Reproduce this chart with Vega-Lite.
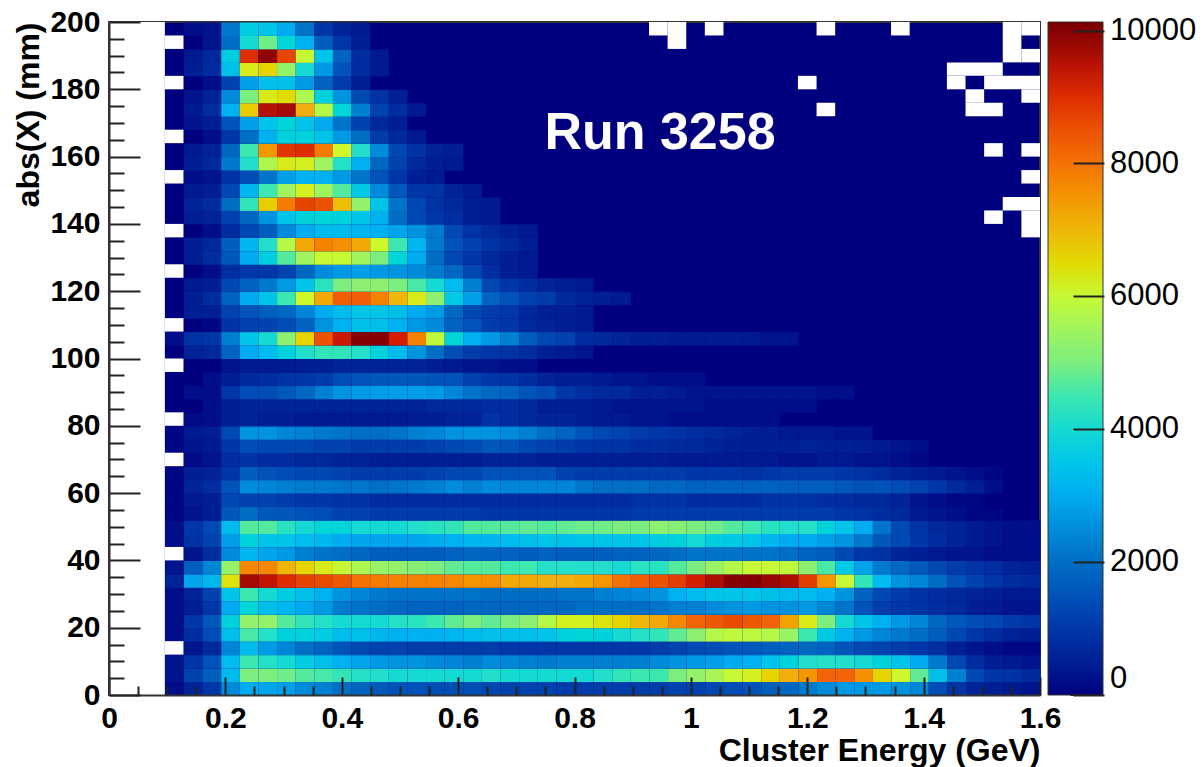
{"$schema":"https://vega.github.io/schema/vega-lite/v6.json","width":931,"height":673,"autosize":"none","padding":{"left":109,"top":22,"right":164,"bottom":72},"background":"white","config":{"view":{"fill":"#00007f","stroke":"#333333","strokeWidth":2},"font":"Liberation Sans"},"resolve":{"axis":{"x":"independent","y":"independent"}},"layer":[{"data":{"values":[
{"e":112,"a":2,"v":200},{"e":144,"a":2,"v":600},{"e":176,"a":2,"v":1000},{"e":208,"a":2,"v":2500},{"e":240,"a":2,"v":3000},{"e":272,"a":2,"v":2900},{"e":304,"a":2,"v":2800},{"e":336,"a":2,"v":2500},{"e":368,"a":2,"v":2300},{"e":400,"a":2,"v":2000},{"e":432,"a":2,"v":1800},{"e":464,"a":2,"v":1600},{"e":496,"a":2,"v":1500},{"e":528,"a":2,"v":1500},{"e":560,"a":2,"v":1400},{"e":592,"a":2,"v":1400},{"e":624,"a":2,"v":1400},{"e":656,"a":2,"v":1300},{"e":688,"a":2,"v":1200},{"e":720,"a":2,"v":1200},{"e":752,"a":2,"v":1200},{"e":784,"a":2,"v":1100},{"e":816,"a":2,"v":1100},{"e":848,"a":2,"v":1100},{"e":880,"a":2,"v":1100},{"e":912,"a":2,"v":1100},{"e":944,"a":2,"v":1100},{"e":976,"a":2,"v":1200},{"e":1008,"a":2,"v":1200},{"e":1040,"a":2,"v":1300},{"e":1072,"a":2,"v":1400},{"e":1104,"a":2,"v":1500},{"e":1136,"a":2,"v":1700},{"e":1168,"a":2,"v":1900},{"e":1200,"a":2,"v":2200},{"e":1232,"a":2,"v":2500},{"e":1264,"a":2,"v":2700},{"e":1296,"a":2,"v":2700},{"e":1328,"a":2,"v":2700},{"e":1360,"a":2,"v":2600},{"e":1392,"a":2,"v":2400},{"e":1424,"a":2,"v":1400},{"e":1456,"a":2,"v":900},{"e":1488,"a":2,"v":600},{"e":1520,"a":2,"v":500},{"e":1552,"a":2,"v":400},{"e":1584,"a":2,"v":300},
{"e":112,"a":6,"v":300},{"e":144,"a":6,"v":1200},{"e":176,"a":6,"v":1700},{"e":208,"a":6,"v":3300},{"e":240,"a":6,"v":5000},{"e":272,"a":6,"v":5000},{"e":304,"a":6,"v":4900},{"e":336,"a":6,"v":4700},{"e":368,"a":6,"v":4600},{"e":400,"a":6,"v":4400},{"e":432,"a":6,"v":4200},{"e":464,"a":6,"v":4100},{"e":496,"a":6,"v":4000},{"e":528,"a":6,"v":4000},{"e":560,"a":6,"v":4000},{"e":592,"a":6,"v":4000},{"e":624,"a":6,"v":4000},{"e":656,"a":6,"v":4100},{"e":688,"a":6,"v":4000},{"e":720,"a":6,"v":4000},{"e":752,"a":6,"v":4000},{"e":784,"a":6,"v":4000},{"e":816,"a":6,"v":4000},{"e":848,"a":6,"v":4100},{"e":880,"a":6,"v":4400},{"e":912,"a":6,"v":4500},{"e":944,"a":6,"v":4500},{"e":976,"a":6,"v":5000},{"e":1008,"a":6,"v":5300},{"e":1040,"a":6,"v":5600},{"e":1072,"a":6,"v":6000},{"e":1104,"a":6,"v":6200},{"e":1136,"a":6,"v":6600},{"e":1168,"a":6,"v":7100},{"e":1200,"a":6,"v":7500},{"e":1232,"a":6,"v":8200},{"e":1264,"a":6,"v":8200},{"e":1296,"a":6,"v":7600},{"e":1328,"a":6,"v":6600},{"e":1360,"a":6,"v":6100},{"e":1392,"a":6,"v":4800},{"e":1424,"a":6,"v":3400},{"e":1456,"a":6,"v":2300},{"e":1488,"a":6,"v":1300},{"e":1520,"a":6,"v":1000},{"e":1552,"a":6,"v":900},{"e":1584,"a":6,"v":700},
{"e":112,"a":10,"v":300},{"e":144,"a":10,"v":1000},{"e":176,"a":10,"v":1500},{"e":208,"a":10,"v":3300},{"e":240,"a":10,"v":4500},{"e":272,"a":10,"v":4200},{"e":304,"a":10,"v":4000},{"e":336,"a":10,"v":3700},{"e":368,"a":10,"v":3400},{"e":400,"a":10,"v":3100},{"e":432,"a":10,"v":2900},{"e":464,"a":10,"v":2700},{"e":496,"a":10,"v":2600},{"e":528,"a":10,"v":2600},{"e":560,"a":10,"v":2500},{"e":592,"a":10,"v":2400},{"e":624,"a":10,"v":2300},{"e":656,"a":10,"v":2500},{"e":688,"a":10,"v":2400},{"e":720,"a":10,"v":2300},{"e":752,"a":10,"v":2200},{"e":784,"a":10,"v":2300},{"e":816,"a":10,"v":2300},{"e":848,"a":10,"v":2300},{"e":880,"a":10,"v":2300},{"e":912,"a":10,"v":2300},{"e":944,"a":10,"v":2500},{"e":976,"a":10,"v":2600},{"e":1008,"a":10,"v":2700},{"e":1040,"a":10,"v":2800},{"e":1072,"a":10,"v":3000},{"e":1104,"a":10,"v":3100},{"e":1136,"a":10,"v":3500},{"e":1168,"a":10,"v":3800},{"e":1200,"a":10,"v":4100},{"e":1232,"a":10,"v":4200},{"e":1264,"a":10,"v":4100},{"e":1296,"a":10,"v":4000},{"e":1328,"a":10,"v":3800},{"e":1360,"a":10,"v":3500},{"e":1392,"a":10,"v":3000},{"e":1424,"a":10,"v":2200},{"e":1456,"a":10,"v":1300},{"e":1488,"a":10,"v":800},{"e":1520,"a":10,"v":500},{"e":1552,"a":10,"v":400},{"e":1584,"a":10,"v":300},
{"e":144,"a":14,"v":300},{"e":176,"a":14,"v":700},{"e":208,"a":14,"v":2400},{"e":240,"a":14,"v":3300},{"e":272,"a":14,"v":2700},{"e":304,"a":14,"v":2400},{"e":336,"a":14,"v":2000},{"e":368,"a":14,"v":1800},{"e":400,"a":14,"v":1500},{"e":432,"a":14,"v":1300},{"e":464,"a":14,"v":1200},{"e":496,"a":14,"v":1200},{"e":528,"a":14,"v":1100},{"e":560,"a":14,"v":1100},{"e":592,"a":14,"v":1100},{"e":624,"a":14,"v":1100},{"e":656,"a":14,"v":1100},{"e":688,"a":14,"v":1000},{"e":720,"a":14,"v":1000},{"e":752,"a":14,"v":1000},{"e":784,"a":14,"v":1000},{"e":816,"a":14,"v":1000},{"e":848,"a":14,"v":1000},{"e":880,"a":14,"v":1000},{"e":912,"a":14,"v":1000},{"e":944,"a":14,"v":1100},{"e":976,"a":14,"v":1200},{"e":1008,"a":14,"v":1300},{"e":1040,"a":14,"v":1400},{"e":1072,"a":14,"v":1500},{"e":1104,"a":14,"v":1600},{"e":1136,"a":14,"v":1700},{"e":1168,"a":14,"v":1800},{"e":1200,"a":14,"v":1900},{"e":1232,"a":14,"v":1800},{"e":1264,"a":14,"v":1500},{"e":1296,"a":14,"v":1300},{"e":1328,"a":14,"v":1200},{"e":1360,"a":14,"v":1100},{"e":1392,"a":14,"v":1000},{"e":1424,"a":14,"v":800},{"e":1456,"a":14,"v":500},{"e":1488,"a":14,"v":300},{"e":1520,"a":14,"v":200},{"e":1552,"a":14,"v":100},{"e":1584,"a":14,"v":100},
{"e":112,"a":18,"v":200},{"e":144,"a":18,"v":800},{"e":176,"a":18,"v":1400},{"e":208,"a":18,"v":3400},{"e":240,"a":18,"v":4600},{"e":272,"a":18,"v":4200},{"e":304,"a":18,"v":3800},{"e":336,"a":18,"v":3800},{"e":368,"a":18,"v":3700},{"e":400,"a":18,"v":3300},{"e":432,"a":18,"v":3400},{"e":464,"a":18,"v":3200},{"e":496,"a":18,"v":3100},{"e":528,"a":18,"v":3100},{"e":560,"a":18,"v":3100},{"e":592,"a":18,"v":3200},{"e":624,"a":18,"v":3300},{"e":656,"a":18,"v":3400},{"e":688,"a":18,"v":3400},{"e":720,"a":18,"v":3400},{"e":752,"a":18,"v":3500},{"e":784,"a":18,"v":3800},{"e":816,"a":18,"v":3900},{"e":848,"a":18,"v":3800},{"e":880,"a":18,"v":4000},{"e":912,"a":18,"v":4200},{"e":944,"a":18,"v":4400},{"e":976,"a":18,"v":4800},{"e":1008,"a":18,"v":5200},{"e":1040,"a":18,"v":5800},{"e":1072,"a":18,"v":5900},{"e":1104,"a":18,"v":5900},{"e":1136,"a":18,"v":5800},{"e":1168,"a":18,"v":5400},{"e":1200,"a":18,"v":4500},{"e":1232,"a":18,"v":3600},{"e":1264,"a":18,"v":3100},{"e":1296,"a":18,"v":2700},{"e":1328,"a":18,"v":2400},{"e":1360,"a":18,"v":2200},{"e":1392,"a":18,"v":2000},{"e":1424,"a":18,"v":1700},{"e":1456,"a":18,"v":1300},{"e":1488,"a":18,"v":1000},{"e":1520,"a":18,"v":800},{"e":1552,"a":18,"v":600},{"e":1584,"a":18,"v":500},
{"e":112,"a":22,"v":200},{"e":144,"a":22,"v":1000},{"e":176,"a":22,"v":1600},{"e":208,"a":22,"v":3800},{"e":240,"a":22,"v":5300},{"e":272,"a":22,"v":5300},{"e":304,"a":22,"v":4700},{"e":336,"a":22,"v":4400},{"e":368,"a":22,"v":4200},{"e":400,"a":22,"v":4000},{"e":432,"a":22,"v":4000},{"e":464,"a":22,"v":4000},{"e":496,"a":22,"v":4200},{"e":528,"a":22,"v":4300},{"e":560,"a":22,"v":4500},{"e":592,"a":22,"v":4800},{"e":624,"a":22,"v":5000},{"e":656,"a":22,"v":4800},{"e":688,"a":22,"v":5000},{"e":720,"a":22,"v":5200},{"e":752,"a":22,"v":5800},{"e":784,"a":22,"v":6200},{"e":816,"a":22,"v":6200},{"e":848,"a":22,"v":6400},{"e":880,"a":22,"v":6600},{"e":912,"a":22,"v":7000},{"e":944,"a":22,"v":7200},{"e":976,"a":22,"v":7700},{"e":1008,"a":22,"v":8200},{"e":1040,"a":22,"v":8400},{"e":1072,"a":22,"v":8600},{"e":1104,"a":22,"v":8400},{"e":1136,"a":22,"v":8200},{"e":1168,"a":22,"v":7300},{"e":1200,"a":22,"v":6300},{"e":1232,"a":22,"v":5000},{"e":1264,"a":22,"v":4000},{"e":1296,"a":22,"v":3500},{"e":1328,"a":22,"v":3100},{"e":1360,"a":22,"v":2700},{"e":1392,"a":22,"v":2400},{"e":1424,"a":22,"v":1900},{"e":1456,"a":22,"v":1600},{"e":1488,"a":22,"v":1400},{"e":1520,"a":22,"v":1300},{"e":1552,"a":22,"v":1100},{"e":1584,"a":22,"v":1000},
{"e":112,"a":26,"v":200},{"e":144,"a":26,"v":500},{"e":176,"a":26,"v":1000},{"e":208,"a":26,"v":3000},{"e":240,"a":26,"v":3900},{"e":272,"a":26,"v":3400},{"e":304,"a":26,"v":3200},{"e":336,"a":26,"v":3000},{"e":368,"a":26,"v":2700},{"e":400,"a":26,"v":2200},{"e":432,"a":26,"v":2100},{"e":464,"a":26,"v":2000},{"e":496,"a":26,"v":1900},{"e":528,"a":26,"v":1800},{"e":560,"a":26,"v":1800},{"e":592,"a":26,"v":1800},{"e":624,"a":26,"v":1900},{"e":656,"a":26,"v":1900},{"e":688,"a":26,"v":1900},{"e":720,"a":26,"v":1900},{"e":752,"a":26,"v":1900},{"e":784,"a":26,"v":1900},{"e":816,"a":26,"v":2000},{"e":848,"a":26,"v":2000},{"e":880,"a":26,"v":2000},{"e":912,"a":26,"v":2000},{"e":944,"a":26,"v":2100},{"e":976,"a":26,"v":2300},{"e":1008,"a":26,"v":2300},{"e":1040,"a":26,"v":2500},{"e":1072,"a":26,"v":2600},{"e":1104,"a":26,"v":2700},{"e":1136,"a":26,"v":2600},{"e":1168,"a":26,"v":2600},{"e":1200,"a":26,"v":2700},{"e":1232,"a":26,"v":2400},{"e":1264,"a":26,"v":2100},{"e":1296,"a":26,"v":1500},{"e":1328,"a":26,"v":1100},{"e":1360,"a":26,"v":1000},{"e":1392,"a":26,"v":900},{"e":1424,"a":26,"v":800},{"e":1456,"a":26,"v":700},{"e":1488,"a":26,"v":500},{"e":1520,"a":26,"v":400},{"e":1552,"a":26,"v":300},{"e":1584,"a":26,"v":300},
{"e":112,"a":30,"v":200},{"e":144,"a":30,"v":600},{"e":176,"a":30,"v":1200},{"e":208,"a":30,"v":3500},{"e":240,"a":30,"v":4500},{"e":272,"a":30,"v":4000},{"e":304,"a":30,"v":3700},{"e":336,"a":30,"v":3400},{"e":368,"a":30,"v":3100},{"e":400,"a":30,"v":2600},{"e":432,"a":30,"v":2400},{"e":464,"a":30,"v":2200},{"e":496,"a":30,"v":2100},{"e":528,"a":30,"v":2100},{"e":560,"a":30,"v":2100},{"e":592,"a":30,"v":2100},{"e":624,"a":30,"v":2100},{"e":656,"a":30,"v":2000},{"e":688,"a":30,"v":2000},{"e":720,"a":30,"v":2000},{"e":752,"a":30,"v":2000},{"e":784,"a":30,"v":2100},{"e":816,"a":30,"v":2100},{"e":848,"a":30,"v":2300},{"e":880,"a":30,"v":2400},{"e":912,"a":30,"v":2500},{"e":944,"a":30,"v":2600},{"e":976,"a":30,"v":3100},{"e":1008,"a":30,"v":3300},{"e":1040,"a":30,"v":3500},{"e":1072,"a":30,"v":3500},{"e":1104,"a":30,"v":3500},{"e":1136,"a":30,"v":3400},{"e":1168,"a":30,"v":3300},{"e":1200,"a":30,"v":3300},{"e":1232,"a":30,"v":3100},{"e":1264,"a":30,"v":2600},{"e":1296,"a":30,"v":1800},{"e":1328,"a":30,"v":1300},{"e":1360,"a":30,"v":1100},{"e":1392,"a":30,"v":900},{"e":1424,"a":30,"v":800},{"e":1456,"a":30,"v":700},{"e":1488,"a":30,"v":600},{"e":1520,"a":30,"v":500},{"e":1552,"a":30,"v":400},{"e":1584,"a":30,"v":400},
{"e":112,"a":34,"v":600},{"e":144,"a":34,"v":2900},{"e":176,"a":34,"v":3200},{"e":208,"a":34,"v":6400},{"e":240,"a":34,"v":9700},{"e":272,"a":34,"v":9400},{"e":304,"a":34,"v":9000},{"e":336,"a":34,"v":8700},{"e":368,"a":34,"v":8600},{"e":400,"a":34,"v":8400},{"e":432,"a":34,"v":8000},{"e":464,"a":34,"v":7900},{"e":496,"a":34,"v":7800},{"e":528,"a":34,"v":7800},{"e":560,"a":34,"v":7800},{"e":592,"a":34,"v":7700},{"e":624,"a":34,"v":7500},{"e":656,"a":34,"v":7600},{"e":688,"a":34,"v":7200},{"e":720,"a":34,"v":7200},{"e":752,"a":34,"v":7100},{"e":784,"a":34,"v":7100},{"e":816,"a":34,"v":7200},{"e":848,"a":34,"v":7500},{"e":880,"a":34,"v":8000},{"e":912,"a":34,"v":8300},{"e":944,"a":34,"v":8500},{"e":976,"a":34,"v":8800},{"e":1008,"a":34,"v":9200},{"e":1040,"a":34,"v":9600},{"e":1072,"a":34,"v":10000},{"e":1104,"a":34,"v":10000},{"e":1136,"a":34,"v":9800},{"e":1168,"a":34,"v":9600},{"e":1200,"a":34,"v":8800},{"e":1232,"a":34,"v":7500},{"e":1264,"a":34,"v":6000},{"e":1296,"a":34,"v":4400},{"e":1328,"a":34,"v":3300},{"e":1360,"a":34,"v":2600},{"e":1392,"a":34,"v":2400},{"e":1424,"a":34,"v":2000},{"e":1456,"a":34,"v":1500},{"e":1488,"a":34,"v":1200},{"e":1520,"a":34,"v":1000},{"e":1552,"a":34,"v":800},{"e":1584,"a":34,"v":700},
{"e":112,"a":38,"v":300},{"e":144,"a":38,"v":1700},{"e":176,"a":38,"v":2400},{"e":208,"a":38,"v":5300},{"e":240,"a":38,"v":7700},{"e":272,"a":38,"v":7700},{"e":304,"a":38,"v":7000},{"e":336,"a":38,"v":6600},{"e":368,"a":38,"v":6300},{"e":400,"a":38,"v":6000},{"e":432,"a":38,"v":5700},{"e":464,"a":38,"v":5400},{"e":496,"a":38,"v":5300},{"e":528,"a":38,"v":5100},{"e":560,"a":38,"v":5000},{"e":592,"a":38,"v":4800},{"e":624,"a":38,"v":4700},{"e":656,"a":38,"v":4700},{"e":688,"a":38,"v":4500},{"e":720,"a":38,"v":4500},{"e":752,"a":38,"v":4200},{"e":784,"a":38,"v":4200},{"e":816,"a":38,"v":4100},{"e":848,"a":38,"v":4100},{"e":880,"a":38,"v":4000},{"e":912,"a":38,"v":4300},{"e":944,"a":38,"v":4300},{"e":976,"a":38,"v":4700},{"e":1008,"a":38,"v":5000},{"e":1040,"a":38,"v":5400},{"e":1072,"a":38,"v":5800},{"e":1104,"a":38,"v":6000},{"e":1136,"a":38,"v":6000},{"e":1168,"a":38,"v":5900},{"e":1200,"a":38,"v":5200},{"e":1232,"a":38,"v":4600},{"e":1264,"a":38,"v":3600},{"e":1296,"a":38,"v":2900},{"e":1328,"a":38,"v":2200},{"e":1360,"a":38,"v":1900},{"e":1392,"a":38,"v":1600},{"e":1424,"a":38,"v":1300},{"e":1456,"a":38,"v":1100},{"e":1488,"a":38,"v":900},{"e":1520,"a":38,"v":800},{"e":1552,"a":38,"v":600},{"e":1584,"a":38,"v":500},
{"e":144,"a":42,"v":300},{"e":176,"a":42,"v":800},{"e":208,"a":42,"v":2500},{"e":240,"a":42,"v":3200},{"e":272,"a":42,"v":2900},{"e":304,"a":42,"v":2700},{"e":336,"a":42,"v":2300},{"e":368,"a":42,"v":2100},{"e":400,"a":42,"v":2000},{"e":432,"a":42,"v":1900},{"e":464,"a":42,"v":1700},{"e":496,"a":42,"v":1700},{"e":528,"a":42,"v":1700},{"e":560,"a":42,"v":1700},{"e":592,"a":42,"v":1800},{"e":624,"a":42,"v":1900},{"e":656,"a":42,"v":1800},{"e":688,"a":42,"v":1800},{"e":720,"a":42,"v":1700},{"e":752,"a":42,"v":1800},{"e":784,"a":42,"v":1700},{"e":816,"a":42,"v":1700},{"e":848,"a":42,"v":1700},{"e":880,"a":42,"v":1800},{"e":912,"a":42,"v":1800},{"e":944,"a":42,"v":1900},{"e":976,"a":42,"v":2000},{"e":1008,"a":42,"v":2100},{"e":1040,"a":42,"v":2100},{"e":1072,"a":42,"v":2100},{"e":1104,"a":42,"v":2100},{"e":1136,"a":42,"v":2100},{"e":1168,"a":42,"v":2000},{"e":1200,"a":42,"v":1800},{"e":1232,"a":42,"v":1700},{"e":1264,"a":42,"v":1300},{"e":1296,"a":42,"v":1000},{"e":1328,"a":42,"v":900},{"e":1360,"a":42,"v":600},{"e":1392,"a":42,"v":500},{"e":1424,"a":42,"v":400},{"e":1456,"a":42,"v":300},{"e":1488,"a":42,"v":300},{"e":1520,"a":42,"v":200},{"e":1552,"a":42,"v":200},{"e":1584,"a":42,"v":200},
{"e":112,"a":46,"v":200},{"e":144,"a":46,"v":900},{"e":176,"a":46,"v":1200},{"e":208,"a":46,"v":2800},{"e":240,"a":46,"v":3800},{"e":272,"a":46,"v":3500},{"e":304,"a":46,"v":3500},{"e":336,"a":46,"v":3300},{"e":368,"a":46,"v":3200},{"e":400,"a":46,"v":3000},{"e":432,"a":46,"v":2900},{"e":464,"a":46,"v":2900},{"e":496,"a":46,"v":2900},{"e":528,"a":46,"v":2900},{"e":560,"a":46,"v":3000},{"e":592,"a":46,"v":3100},{"e":624,"a":46,"v":3200},{"e":656,"a":46,"v":3200},{"e":688,"a":46,"v":3300},{"e":720,"a":46,"v":3400},{"e":752,"a":46,"v":3500},{"e":784,"a":46,"v":3400},{"e":816,"a":46,"v":3500},{"e":848,"a":46,"v":3500},{"e":880,"a":46,"v":3500},{"e":912,"a":46,"v":3500},{"e":944,"a":46,"v":3700},{"e":976,"a":46,"v":3800},{"e":1008,"a":46,"v":4000},{"e":1040,"a":46,"v":3700},{"e":1072,"a":46,"v":3600},{"e":1104,"a":46,"v":3500},{"e":1136,"a":46,"v":3200},{"e":1168,"a":46,"v":3000},{"e":1200,"a":46,"v":3000},{"e":1232,"a":46,"v":2800},{"e":1264,"a":46,"v":2600},{"e":1296,"a":46,"v":2200},{"e":1328,"a":46,"v":1600},{"e":1360,"a":46,"v":1300},{"e":1392,"a":46,"v":1000},{"e":1424,"a":46,"v":800},{"e":1456,"a":46,"v":600},{"e":1488,"a":46,"v":400},{"e":1520,"a":46,"v":300},{"e":1552,"a":46,"v":200},{"e":1584,"a":46,"v":200},
{"e":112,"a":50,"v":200},{"e":144,"a":50,"v":1000},{"e":176,"a":50,"v":1300},{"e":208,"a":50,"v":3300},{"e":240,"a":50,"v":4700},{"e":272,"a":50,"v":4700},{"e":304,"a":50,"v":4300},{"e":336,"a":50,"v":4000},{"e":368,"a":50,"v":3900},{"e":400,"a":50,"v":3900},{"e":432,"a":50,"v":4000},{"e":464,"a":50,"v":4000},{"e":496,"a":50,"v":4000},{"e":528,"a":50,"v":4100},{"e":560,"a":50,"v":4300},{"e":592,"a":50,"v":4400},{"e":624,"a":50,"v":4700},{"e":656,"a":50,"v":4700},{"e":688,"a":50,"v":4700},{"e":720,"a":50,"v":4800},{"e":752,"a":50,"v":4700},{"e":784,"a":50,"v":4800},{"e":816,"a":50,"v":4900},{"e":848,"a":50,"v":4900},{"e":880,"a":50,"v":5000},{"e":912,"a":50,"v":5000},{"e":944,"a":50,"v":5200},{"e":976,"a":50,"v":5100},{"e":1008,"a":50,"v":5000},{"e":1040,"a":50,"v":4900},{"e":1072,"a":50,"v":4700},{"e":1104,"a":50,"v":4500},{"e":1136,"a":50,"v":4300},{"e":1168,"a":50,"v":4100},{"e":1200,"a":50,"v":4200},{"e":1232,"a":50,"v":3800},{"e":1264,"a":50,"v":3500},{"e":1296,"a":50,"v":3000},{"e":1328,"a":50,"v":2100},{"e":1360,"a":50,"v":1300},{"e":1392,"a":50,"v":900},{"e":1424,"a":50,"v":700},{"e":1456,"a":50,"v":600},{"e":1488,"a":50,"v":400},{"e":1520,"a":50,"v":300},{"e":1552,"a":50,"v":200},{"e":1584,"a":50,"v":200},
{"e":112,"a":54,"v":100},{"e":144,"a":54,"v":300},{"e":176,"a":54,"v":500},{"e":208,"a":54,"v":1600},{"e":240,"a":54,"v":2000},{"e":272,"a":54,"v":1600},{"e":304,"a":54,"v":1600},{"e":336,"a":54,"v":1500},{"e":368,"a":54,"v":1400},{"e":400,"a":54,"v":1200},{"e":432,"a":54,"v":1200},{"e":464,"a":54,"v":1100},{"e":496,"a":54,"v":1100},{"e":528,"a":54,"v":1100},{"e":560,"a":54,"v":1100},{"e":592,"a":54,"v":1100},{"e":624,"a":54,"v":1100},{"e":656,"a":54,"v":1000},{"e":688,"a":54,"v":1000},{"e":720,"a":54,"v":1000},{"e":752,"a":54,"v":1000},{"e":784,"a":54,"v":1000},{"e":816,"a":54,"v":1000},{"e":848,"a":54,"v":1000},{"e":880,"a":54,"v":1000},{"e":912,"a":54,"v":1100},{"e":944,"a":54,"v":1100},{"e":976,"a":54,"v":1100},{"e":1008,"a":54,"v":1100},{"e":1040,"a":54,"v":1100},{"e":1072,"a":54,"v":1100},{"e":1104,"a":54,"v":1100},{"e":1136,"a":54,"v":1100},{"e":1168,"a":54,"v":1100},{"e":1200,"a":54,"v":1100},{"e":1232,"a":54,"v":1100},{"e":1264,"a":54,"v":1000},{"e":1296,"a":54,"v":900},{"e":1328,"a":54,"v":800},{"e":1360,"a":54,"v":700},{"e":1392,"a":54,"v":400},{"e":1424,"a":54,"v":300},{"e":1456,"a":54,"v":200},{"e":1488,"a":54,"v":100},{"e":1520,"a":54,"v":100},
{"e":112,"a":58,"v":100},{"e":144,"a":58,"v":400},{"e":176,"a":58,"v":500},{"e":208,"a":58,"v":1300},{"e":240,"a":58,"v":1200},{"e":272,"a":58,"v":1200},{"e":304,"a":58,"v":1100},{"e":336,"a":58,"v":1000},{"e":368,"a":58,"v":1000},{"e":400,"a":58,"v":900},{"e":432,"a":58,"v":900},{"e":464,"a":58,"v":800},{"e":496,"a":58,"v":800},{"e":528,"a":58,"v":800},{"e":560,"a":58,"v":800},{"e":592,"a":58,"v":800},{"e":624,"a":58,"v":800},{"e":656,"a":58,"v":800},{"e":688,"a":58,"v":800},{"e":720,"a":58,"v":800},{"e":752,"a":58,"v":800},{"e":784,"a":58,"v":800},{"e":816,"a":58,"v":800},{"e":848,"a":58,"v":800},{"e":880,"a":58,"v":800},{"e":912,"a":58,"v":900},{"e":944,"a":58,"v":900},{"e":976,"a":58,"v":900},{"e":1008,"a":58,"v":800},{"e":1040,"a":58,"v":800},{"e":1072,"a":58,"v":800},{"e":1104,"a":58,"v":800},{"e":1136,"a":58,"v":900},{"e":1168,"a":58,"v":900},{"e":1200,"a":58,"v":900},{"e":1232,"a":58,"v":800},{"e":1264,"a":58,"v":800},{"e":1296,"a":58,"v":700},{"e":1328,"a":58,"v":700},{"e":1360,"a":58,"v":600},{"e":1392,"a":58,"v":300},{"e":1424,"a":58,"v":200},{"e":1456,"a":58,"v":100},{"e":1488,"a":58,"v":100},
{"e":112,"a":62,"v":100},{"e":144,"a":62,"v":600},{"e":176,"a":62,"v":800},{"e":208,"a":62,"v":1500},{"e":240,"a":62,"v":2500},{"e":272,"a":62,"v":2400},{"e":304,"a":62,"v":2300},{"e":336,"a":62,"v":2200},{"e":368,"a":62,"v":2200},{"e":400,"a":62,"v":2100},{"e":432,"a":62,"v":2100},{"e":464,"a":62,"v":2000},{"e":496,"a":62,"v":2100},{"e":528,"a":62,"v":2200},{"e":560,"a":62,"v":2300},{"e":592,"a":62,"v":2500},{"e":624,"a":62,"v":2300},{"e":656,"a":62,"v":2500},{"e":688,"a":62,"v":2400},{"e":720,"a":62,"v":2400},{"e":752,"a":62,"v":2400},{"e":784,"a":62,"v":2400},{"e":816,"a":62,"v":2100},{"e":848,"a":62,"v":2000},{"e":880,"a":62,"v":2000},{"e":912,"a":62,"v":2000},{"e":944,"a":62,"v":1900},{"e":976,"a":62,"v":1900},{"e":1008,"a":62,"v":1800},{"e":1040,"a":62,"v":1800},{"e":1072,"a":62,"v":1800},{"e":1104,"a":62,"v":1800},{"e":1136,"a":62,"v":1800},{"e":1168,"a":62,"v":1700},{"e":1200,"a":62,"v":1700},{"e":1232,"a":62,"v":1700},{"e":1264,"a":62,"v":1600},{"e":1296,"a":62,"v":1500},{"e":1328,"a":62,"v":1500},{"e":1360,"a":62,"v":1400},{"e":1392,"a":62,"v":1200},{"e":1424,"a":62,"v":1000},{"e":1456,"a":62,"v":700},{"e":1488,"a":62,"v":500},{"e":1520,"a":62,"v":200},
{"e":112,"a":66,"v":100},{"e":144,"a":66,"v":500},{"e":176,"a":66,"v":600},{"e":208,"a":66,"v":1000},{"e":240,"a":66,"v":1700},{"e":272,"a":66,"v":1500},{"e":304,"a":66,"v":1400},{"e":336,"a":66,"v":1300},{"e":368,"a":66,"v":1300},{"e":400,"a":66,"v":1200},{"e":432,"a":66,"v":1100},{"e":464,"a":66,"v":1100},{"e":496,"a":66,"v":1100},{"e":528,"a":66,"v":1100},{"e":560,"a":66,"v":1200},{"e":592,"a":66,"v":1300},{"e":624,"a":66,"v":1300},{"e":656,"a":66,"v":1500},{"e":688,"a":66,"v":1500},{"e":720,"a":66,"v":1500},{"e":752,"a":66,"v":1500},{"e":784,"a":66,"v":1200},{"e":816,"a":66,"v":1100},{"e":848,"a":66,"v":1100},{"e":880,"a":66,"v":1100},{"e":912,"a":66,"v":1100},{"e":944,"a":66,"v":1100},{"e":976,"a":66,"v":1100},{"e":1008,"a":66,"v":1000},{"e":1040,"a":66,"v":1000},{"e":1072,"a":66,"v":1000},{"e":1104,"a":66,"v":900},{"e":1136,"a":66,"v":1000},{"e":1168,"a":66,"v":1100},{"e":1200,"a":66,"v":1100},{"e":1232,"a":66,"v":1100},{"e":1264,"a":66,"v":1000},{"e":1296,"a":66,"v":900},{"e":1328,"a":66,"v":800},{"e":1360,"a":66,"v":600},{"e":1392,"a":66,"v":500},{"e":1424,"a":66,"v":400},{"e":1456,"a":66,"v":300},{"e":1488,"a":66,"v":200},{"e":1520,"a":66,"v":100},
{"e":144,"a":70,"v":150},{"e":176,"a":70,"v":300},{"e":208,"a":70,"v":800},{"e":240,"a":70,"v":900},{"e":272,"a":70,"v":800},{"e":304,"a":70,"v":800},{"e":336,"a":70,"v":700},{"e":368,"a":70,"v":700},{"e":400,"a":70,"v":600},{"e":432,"a":70,"v":600},{"e":464,"a":70,"v":500},{"e":496,"a":70,"v":500},{"e":528,"a":70,"v":500},{"e":560,"a":70,"v":500},{"e":592,"a":70,"v":500},{"e":624,"a":70,"v":500},{"e":656,"a":70,"v":600},{"e":688,"a":70,"v":600},{"e":720,"a":70,"v":600},{"e":752,"a":70,"v":500},{"e":784,"a":70,"v":500},{"e":816,"a":70,"v":500},{"e":848,"a":70,"v":500},{"e":880,"a":70,"v":500},{"e":912,"a":70,"v":500},{"e":944,"a":70,"v":500},{"e":976,"a":70,"v":400},{"e":1008,"a":70,"v":400},{"e":1040,"a":70,"v":400},{"e":1072,"a":70,"v":400},{"e":1104,"a":70,"v":400},{"e":1136,"a":70,"v":400},{"e":1168,"a":70,"v":300},{"e":1200,"a":70,"v":300},{"e":1232,"a":70,"v":400},{"e":1264,"a":70,"v":400},{"e":1296,"a":70,"v":300},{"e":1328,"a":70,"v":300},{"e":1360,"a":70,"v":200},{"e":1392,"a":70,"v":100},
{"e":112,"a":74,"v":100},{"e":144,"a":74,"v":300},{"e":176,"a":74,"v":400},{"e":208,"a":74,"v":1000},{"e":240,"a":74,"v":1400},{"e":272,"a":74,"v":1300},{"e":304,"a":74,"v":1300},{"e":336,"a":74,"v":1300},{"e":368,"a":74,"v":1200},{"e":400,"a":74,"v":1200},{"e":432,"a":74,"v":1100},{"e":464,"a":74,"v":1100},{"e":496,"a":74,"v":1100},{"e":528,"a":74,"v":1100},{"e":560,"a":74,"v":1200},{"e":592,"a":74,"v":1300},{"e":624,"a":74,"v":1400},{"e":656,"a":74,"v":1600},{"e":688,"a":74,"v":1500},{"e":720,"a":74,"v":1300},{"e":752,"a":74,"v":1200},{"e":784,"a":74,"v":1100},{"e":816,"a":74,"v":1000},{"e":848,"a":74,"v":900},{"e":880,"a":74,"v":900},{"e":912,"a":74,"v":800},{"e":944,"a":74,"v":800},{"e":976,"a":74,"v":700},{"e":1008,"a":74,"v":700},{"e":1040,"a":74,"v":600},{"e":1072,"a":74,"v":500},{"e":1104,"a":74,"v":500},{"e":1136,"a":74,"v":500},{"e":1168,"a":74,"v":500},{"e":1200,"a":74,"v":600},{"e":1232,"a":74,"v":500},{"e":1264,"a":74,"v":500},{"e":1296,"a":74,"v":500},{"e":1328,"a":74,"v":400},{"e":1360,"a":74,"v":300},{"e":1392,"a":74,"v":200},
{"e":112,"a":78,"v":100},{"e":144,"a":78,"v":400},{"e":176,"a":78,"v":500},{"e":208,"a":78,"v":1300},{"e":240,"a":78,"v":2600},{"e":272,"a":78,"v":2600},{"e":304,"a":78,"v":2400},{"e":336,"a":78,"v":2300},{"e":368,"a":78,"v":2200},{"e":400,"a":78,"v":2100},{"e":432,"a":78,"v":2000},{"e":464,"a":78,"v":2000},{"e":496,"a":78,"v":2100},{"e":528,"a":78,"v":2300},{"e":560,"a":78,"v":2400},{"e":592,"a":78,"v":2600},{"e":624,"a":78,"v":2600},{"e":656,"a":78,"v":2600},{"e":688,"a":78,"v":2500},{"e":720,"a":78,"v":2300},{"e":752,"a":78,"v":2000},{"e":784,"a":78,"v":1800},{"e":816,"a":78,"v":1500},{"e":848,"a":78,"v":1300},{"e":880,"a":78,"v":1200},{"e":912,"a":78,"v":1100},{"e":944,"a":78,"v":1000},{"e":976,"a":78,"v":900},{"e":1008,"a":78,"v":800},{"e":1040,"a":78,"v":700},{"e":1072,"a":78,"v":600},{"e":1104,"a":78,"v":500},{"e":1136,"a":78,"v":500},{"e":1168,"a":78,"v":400},{"e":1200,"a":78,"v":400},{"e":1232,"a":78,"v":400},{"e":1264,"a":78,"v":300},{"e":1296,"a":78,"v":300},
{"e":144,"a":82,"v":150},{"e":176,"a":82,"v":200},{"e":208,"a":82,"v":500},{"e":240,"a":82,"v":600},{"e":272,"a":82,"v":500},{"e":304,"a":82,"v":500},{"e":336,"a":82,"v":400},{"e":368,"a":82,"v":400},{"e":400,"a":82,"v":400},{"e":432,"a":82,"v":400},{"e":464,"a":82,"v":400},{"e":496,"a":82,"v":400},{"e":528,"a":82,"v":500},{"e":560,"a":82,"v":500},{"e":592,"a":82,"v":600},{"e":624,"a":82,"v":600},{"e":656,"a":82,"v":900},{"e":688,"a":82,"v":800},{"e":720,"a":82,"v":700},{"e":752,"a":82,"v":600},{"e":784,"a":82,"v":600},{"e":816,"a":82,"v":500},{"e":848,"a":82,"v":400},{"e":880,"a":82,"v":400},{"e":912,"a":82,"v":300},{"e":944,"a":82,"v":300},{"e":976,"a":82,"v":200},{"e":1008,"a":82,"v":200},{"e":1040,"a":82,"v":200},{"e":1072,"a":82,"v":200},{"e":1104,"a":82,"v":200},{"e":1136,"a":82,"v":200},
{"e":176,"a":86,"v":200},{"e":208,"a":86,"v":500},{"e":240,"a":86,"v":600},{"e":272,"a":86,"v":600},{"e":304,"a":86,"v":600},{"e":336,"a":86,"v":600},{"e":368,"a":86,"v":600},{"e":400,"a":86,"v":600},{"e":432,"a":86,"v":600},{"e":464,"a":86,"v":600},{"e":496,"a":86,"v":600},{"e":528,"a":86,"v":600},{"e":560,"a":86,"v":700},{"e":592,"a":86,"v":700},{"e":624,"a":86,"v":700},{"e":656,"a":86,"v":800},{"e":688,"a":86,"v":800},{"e":720,"a":86,"v":700},{"e":752,"a":86,"v":500},{"e":784,"a":86,"v":500},{"e":816,"a":86,"v":500},{"e":848,"a":86,"v":400},{"e":880,"a":86,"v":300},{"e":912,"a":86,"v":300},{"e":944,"a":86,"v":300},{"e":976,"a":86,"v":300},{"e":1008,"a":86,"v":300},{"e":1040,"a":86,"v":200},{"e":1072,"a":86,"v":200},{"e":1104,"a":86,"v":200},{"e":1136,"a":86,"v":200},{"e":1168,"a":86,"v":200},{"e":1200,"a":86,"v":200},
{"e":144,"a":90,"v":200},{"e":176,"a":90,"v":200},{"e":208,"a":90,"v":1000},{"e":240,"a":90,"v":1400},{"e":272,"a":90,"v":1400},{"e":304,"a":90,"v":1600},{"e":336,"a":90,"v":1900},{"e":368,"a":90,"v":2300},{"e":400,"a":90,"v":2600},{"e":432,"a":90,"v":2700},{"e":464,"a":90,"v":2800},{"e":496,"a":90,"v":2800},{"e":528,"a":90,"v":2800},{"e":560,"a":90,"v":2700},{"e":592,"a":90,"v":2400},{"e":624,"a":90,"v":2100},{"e":656,"a":90,"v":1900},{"e":688,"a":90,"v":1800},{"e":720,"a":90,"v":1500},{"e":752,"a":90,"v":1400},{"e":784,"a":90,"v":1000},{"e":816,"a":90,"v":800},{"e":848,"a":90,"v":700},{"e":880,"a":90,"v":700},{"e":912,"a":90,"v":500},{"e":944,"a":90,"v":500},{"e":976,"a":90,"v":400},{"e":1008,"a":90,"v":300},{"e":1040,"a":90,"v":300},{"e":1072,"a":90,"v":300},{"e":1104,"a":90,"v":300},{"e":1136,"a":90,"v":300},{"e":1168,"a":90,"v":300},{"e":1200,"a":90,"v":300},{"e":1232,"a":90,"v":200},{"e":1264,"a":90,"v":200},
{"e":176,"a":94,"v":200},{"e":208,"a":94,"v":500},{"e":240,"a":94,"v":700},{"e":272,"a":94,"v":800},{"e":304,"a":94,"v":900},{"e":336,"a":94,"v":1000},{"e":368,"a":94,"v":1100},{"e":400,"a":94,"v":1400},{"e":432,"a":94,"v":1500},{"e":464,"a":94,"v":1600},{"e":496,"a":94,"v":1600},{"e":528,"a":94,"v":1600},{"e":560,"a":94,"v":1500},{"e":592,"a":94,"v":1500},{"e":624,"a":94,"v":1200},{"e":656,"a":94,"v":1000},{"e":688,"a":94,"v":900},{"e":720,"a":94,"v":800},{"e":752,"a":94,"v":600},{"e":784,"a":94,"v":500},{"e":816,"a":94,"v":500},{"e":848,"a":94,"v":400},{"e":880,"a":94,"v":300},{"e":912,"a":94,"v":300},{"e":944,"a":94,"v":200},{"e":976,"a":94,"v":200},{"e":1008,"a":94,"v":200},
{"e":208,"a":98,"v":300},{"e":240,"a":98,"v":400},{"e":272,"a":98,"v":400},{"e":304,"a":98,"v":400},{"e":336,"a":98,"v":500},{"e":368,"a":98,"v":500},{"e":400,"a":98,"v":600},{"e":432,"a":98,"v":600},{"e":464,"a":98,"v":600},{"e":496,"a":98,"v":600},{"e":528,"a":98,"v":600},{"e":560,"a":98,"v":500},{"e":592,"a":98,"v":400},{"e":624,"a":98,"v":300},{"e":656,"a":98,"v":300},{"e":688,"a":98,"v":200},{"e":720,"a":98,"v":200},
{"e":144,"a":102,"v":600},{"e":176,"a":102,"v":700},{"e":208,"a":102,"v":1800},{"e":240,"a":102,"v":3000},{"e":272,"a":102,"v":3300},{"e":304,"a":102,"v":3800},{"e":336,"a":102,"v":4100},{"e":368,"a":102,"v":4400},{"e":400,"a":102,"v":4400},{"e":432,"a":102,"v":4200},{"e":464,"a":102,"v":3800},{"e":496,"a":102,"v":3300},{"e":528,"a":102,"v":2600},{"e":560,"a":102,"v":2000},{"e":592,"a":102,"v":1400},{"e":624,"a":102,"v":1100},{"e":656,"a":102,"v":1000},{"e":688,"a":102,"v":900},{"e":720,"a":102,"v":800},{"e":752,"a":102,"v":500},{"e":784,"a":102,"v":400},{"e":816,"a":102,"v":300},
{"e":112,"a":106,"v":200},{"e":144,"a":106,"v":900},{"e":176,"a":106,"v":1000},{"e":208,"a":106,"v":2300},{"e":240,"a":106,"v":3500},{"e":272,"a":106,"v":4000},{"e":304,"a":106,"v":5200},{"e":336,"a":106,"v":6600},{"e":368,"a":106,"v":8500},{"e":400,"a":106,"v":9300},{"e":432,"a":106,"v":10000},{"e":464,"a":106,"v":10000},{"e":496,"a":106,"v":9200},{"e":528,"a":106,"v":7800},{"e":560,"a":106,"v":5900},{"e":592,"a":106,"v":3900},{"e":624,"a":106,"v":3100},{"e":656,"a":106,"v":2700},{"e":688,"a":106,"v":2300},{"e":720,"a":106,"v":1700},{"e":752,"a":106,"v":1300},{"e":784,"a":106,"v":1200},{"e":816,"a":106,"v":800},{"e":848,"a":106,"v":700},{"e":880,"a":106,"v":600},{"e":912,"a":106,"v":500},{"e":944,"a":106,"v":500},{"e":976,"a":106,"v":400},{"e":1008,"a":106,"v":400},{"e":1040,"a":106,"v":400},{"e":1072,"a":106,"v":400},{"e":1104,"a":106,"v":400},{"e":1136,"a":106,"v":300},{"e":1168,"a":106,"v":300},
{"e":176,"a":110,"v":100},{"e":208,"a":110,"v":900},{"e":240,"a":110,"v":1200},{"e":272,"a":110,"v":1200},{"e":304,"a":110,"v":1400},{"e":336,"a":110,"v":1800},{"e":368,"a":110,"v":2600},{"e":400,"a":110,"v":3100},{"e":432,"a":110,"v":3400},{"e":464,"a":110,"v":3400},{"e":496,"a":110,"v":3100},{"e":528,"a":110,"v":2700},{"e":560,"a":110,"v":2500},{"e":592,"a":110,"v":1800},{"e":624,"a":110,"v":1500},{"e":656,"a":110,"v":1100},{"e":688,"a":110,"v":1000},{"e":720,"a":110,"v":700},{"e":752,"a":110,"v":600},{"e":784,"a":110,"v":500},{"e":816,"a":110,"v":400},
{"e":144,"a":114,"v":500},{"e":176,"a":114,"v":500},{"e":208,"a":114,"v":1200},{"e":240,"a":114,"v":1500},{"e":272,"a":114,"v":1700},{"e":304,"a":114,"v":1900},{"e":336,"a":114,"v":2400},{"e":368,"a":114,"v":3000},{"e":400,"a":114,"v":3300},{"e":432,"a":114,"v":3500},{"e":464,"a":114,"v":3500},{"e":496,"a":114,"v":3400},{"e":528,"a":114,"v":3000},{"e":560,"a":114,"v":2700},{"e":592,"a":114,"v":1900},{"e":624,"a":114,"v":1300},{"e":656,"a":114,"v":1100},{"e":688,"a":114,"v":1000},{"e":720,"a":114,"v":700},{"e":752,"a":114,"v":500},{"e":784,"a":114,"v":500},{"e":816,"a":114,"v":400},
{"e":144,"a":118,"v":500},{"e":176,"a":118,"v":800},{"e":208,"a":118,"v":1800},{"e":240,"a":118,"v":3000},{"e":272,"a":118,"v":3500},{"e":304,"a":118,"v":4500},{"e":336,"a":118,"v":6100},{"e":368,"a":118,"v":7200},{"e":400,"a":118,"v":8300},{"e":432,"a":118,"v":8300},{"e":464,"a":118,"v":7800},{"e":496,"a":118,"v":7000},{"e":528,"a":118,"v":6300},{"e":560,"a":118,"v":5200},{"e":592,"a":118,"v":3600},{"e":624,"a":118,"v":2800},{"e":656,"a":118,"v":1800},{"e":688,"a":118,"v":1500},{"e":720,"a":118,"v":1200},{"e":752,"a":118,"v":1100},{"e":784,"a":118,"v":700},{"e":816,"a":118,"v":600},{"e":848,"a":118,"v":500},{"e":880,"a":118,"v":400},
{"e":144,"a":122,"v":400},{"e":176,"a":122,"v":500},{"e":208,"a":122,"v":1300},{"e":240,"a":122,"v":1800},{"e":272,"a":122,"v":2200},{"e":304,"a":122,"v":2700},{"e":336,"a":122,"v":3500},{"e":368,"a":122,"v":4300},{"e":400,"a":122,"v":5000},{"e":432,"a":122,"v":5200},{"e":464,"a":122,"v":5200},{"e":496,"a":122,"v":5000},{"e":528,"a":122,"v":4600},{"e":560,"a":122,"v":4000},{"e":592,"a":122,"v":3300},{"e":624,"a":122,"v":2300},{"e":656,"a":122,"v":1300},{"e":688,"a":122,"v":1000},{"e":720,"a":122,"v":800},{"e":752,"a":122,"v":600},{"e":784,"a":122,"v":500},{"e":816,"a":122,"v":400},
{"e":176,"a":126,"v":200},{"e":208,"a":126,"v":800},{"e":240,"a":126,"v":1000},{"e":272,"a":126,"v":1000},{"e":304,"a":126,"v":1200},{"e":336,"a":126,"v":1900},{"e":368,"a":126,"v":2500},{"e":400,"a":126,"v":2700},{"e":432,"a":126,"v":2800},{"e":464,"a":126,"v":2700},{"e":496,"a":126,"v":2600},{"e":528,"a":126,"v":2500},{"e":560,"a":126,"v":2200},{"e":592,"a":126,"v":1900},{"e":624,"a":126,"v":1300},{"e":656,"a":126,"v":800},{"e":688,"a":126,"v":500},{"e":720,"a":126,"v":400},
{"e":144,"a":130,"v":500},{"e":176,"a":130,"v":800},{"e":208,"a":130,"v":1600},{"e":240,"a":130,"v":3000},{"e":272,"a":130,"v":3700},{"e":304,"a":130,"v":4700},{"e":336,"a":130,"v":5500},{"e":368,"a":130,"v":6000},{"e":400,"a":130,"v":6000},{"e":432,"a":130,"v":5500},{"e":464,"a":130,"v":5000},{"e":496,"a":130,"v":3900},{"e":528,"a":130,"v":3000},{"e":560,"a":130,"v":2000},{"e":592,"a":130,"v":1300},{"e":624,"a":130,"v":1000},{"e":656,"a":130,"v":700},{"e":688,"a":130,"v":500},{"e":720,"a":130,"v":400},
{"e":144,"a":134,"v":500},{"e":176,"a":134,"v":700},{"e":208,"a":134,"v":1700},{"e":240,"a":134,"v":3200},{"e":272,"a":134,"v":4100},{"e":304,"a":134,"v":5800},{"e":336,"a":134,"v":7200},{"e":368,"a":134,"v":7800},{"e":400,"a":134,"v":7600},{"e":432,"a":134,"v":7200},{"e":464,"a":134,"v":6100},{"e":496,"a":134,"v":4500},{"e":528,"a":134,"v":3200},{"e":560,"a":134,"v":2200},{"e":592,"a":134,"v":1500},{"e":624,"a":134,"v":1200},{"e":656,"a":134,"v":900},{"e":688,"a":134,"v":700},{"e":720,"a":134,"v":500},
{"e":176,"a":138,"v":200},{"e":208,"a":138,"v":800},{"e":240,"a":138,"v":1300},{"e":272,"a":138,"v":1700},{"e":304,"a":138,"v":2500},{"e":336,"a":138,"v":3000},{"e":368,"a":138,"v":3300},{"e":400,"a":138,"v":3300},{"e":432,"a":138,"v":3200},{"e":464,"a":138,"v":3100},{"e":496,"a":138,"v":2900},{"e":528,"a":138,"v":2600},{"e":560,"a":138,"v":2200},{"e":592,"a":138,"v":1300},{"e":624,"a":138,"v":900},{"e":656,"a":138,"v":700},{"e":688,"a":138,"v":500},{"e":720,"a":138,"v":400},
{"e":144,"a":142,"v":500},{"e":176,"a":142,"v":600},{"e":208,"a":142,"v":1200},{"e":240,"a":142,"v":1900},{"e":272,"a":142,"v":2600},{"e":304,"a":142,"v":3500},{"e":336,"a":142,"v":3800},{"e":368,"a":142,"v":3900},{"e":400,"a":142,"v":3800},{"e":432,"a":142,"v":3500},{"e":464,"a":142,"v":3100},{"e":496,"a":142,"v":2000},{"e":528,"a":142,"v":1300},{"e":560,"a":142,"v":1000},{"e":592,"a":142,"v":800},{"e":624,"a":142,"v":500},{"e":656,"a":142,"v":400},
{"e":144,"a":146,"v":600},{"e":176,"a":146,"v":800},{"e":208,"a":146,"v":2000},{"e":240,"a":146,"v":4400},{"e":272,"a":146,"v":6700},{"e":304,"a":146,"v":7900},{"e":336,"a":146,"v":8700},{"e":368,"a":146,"v":8500},{"e":400,"a":146,"v":6900},{"e":432,"a":146,"v":5300},{"e":464,"a":146,"v":3500},{"e":496,"a":146,"v":2100},{"e":528,"a":146,"v":1300},{"e":560,"a":146,"v":900},{"e":592,"a":146,"v":700},{"e":624,"a":146,"v":500},{"e":656,"a":146,"v":400},
{"e":144,"a":150,"v":400},{"e":176,"a":150,"v":500},{"e":208,"a":150,"v":1300},{"e":240,"a":150,"v":3200},{"e":272,"a":150,"v":4500},{"e":304,"a":150,"v":5500},{"e":336,"a":150,"v":6200},{"e":368,"a":150,"v":5500},{"e":400,"a":150,"v":4700},{"e":432,"a":150,"v":3600},{"e":464,"a":150,"v":2500},{"e":496,"a":150,"v":1600},{"e":528,"a":150,"v":1000},{"e":560,"a":150,"v":900},{"e":592,"a":150,"v":600},{"e":624,"a":150,"v":400},
{"e":144,"a":154,"v":200},{"e":176,"a":154,"v":300},{"e":208,"a":154,"v":900},{"e":240,"a":154,"v":1400},{"e":272,"a":154,"v":2100},{"e":304,"a":154,"v":2800},{"e":336,"a":154,"v":3100},{"e":368,"a":154,"v":3100},{"e":400,"a":154,"v":2700},{"e":432,"a":154,"v":2100},{"e":464,"a":154,"v":1500},{"e":496,"a":154,"v":1000},{"e":528,"a":154,"v":500},{"e":560,"a":154,"v":400},
{"e":144,"a":158,"v":500},{"e":176,"a":158,"v":700},{"e":208,"a":158,"v":2200},{"e":240,"a":158,"v":4100},{"e":272,"a":158,"v":5700},{"e":304,"a":158,"v":6300},{"e":336,"a":158,"v":6200},{"e":368,"a":158,"v":5500},{"e":400,"a":158,"v":4200},{"e":432,"a":158,"v":3100},{"e":464,"a":158,"v":1900},{"e":496,"a":158,"v":1200},{"e":528,"a":158,"v":700},{"e":560,"a":158,"v":500},{"e":592,"a":158,"v":400},
{"e":144,"a":162,"v":400},{"e":176,"a":162,"v":600},{"e":208,"a":162,"v":1900},{"e":240,"a":162,"v":4500},{"e":272,"a":162,"v":7500},{"e":304,"a":162,"v":8900},{"e":336,"a":162,"v":9000},{"e":368,"a":162,"v":7900},{"e":400,"a":162,"v":6100},{"e":432,"a":162,"v":4100},{"e":464,"a":162,"v":2500},{"e":496,"a":162,"v":1300},{"e":528,"a":162,"v":900},{"e":560,"a":162,"v":600},{"e":592,"a":162,"v":500},
{"e":176,"a":166,"v":200},{"e":208,"a":166,"v":1000},{"e":240,"a":166,"v":2000},{"e":272,"a":166,"v":3100},{"e":304,"a":166,"v":3800},{"e":336,"a":166,"v":3800},{"e":368,"a":166,"v":3500},{"e":400,"a":166,"v":2700},{"e":432,"a":166,"v":2000},{"e":464,"a":166,"v":1100},{"e":496,"a":166,"v":700},{"e":528,"a":166,"v":400},
{"e":144,"a":170,"v":300},{"e":176,"a":170,"v":500},{"e":208,"a":170,"v":1500},{"e":240,"a":170,"v":2800},{"e":272,"a":170,"v":3500},{"e":304,"a":170,"v":3900},{"e":336,"a":170,"v":3500},{"e":368,"a":170,"v":3000},{"e":400,"a":170,"v":2100},{"e":432,"a":170,"v":1200},{"e":464,"a":170,"v":700},{"e":496,"a":170,"v":500},
{"e":144,"a":174,"v":400},{"e":176,"a":174,"v":800},{"e":208,"a":174,"v":3100},{"e":240,"a":174,"v":6700},{"e":272,"a":174,"v":9500},{"e":304,"a":174,"v":9700},{"e":336,"a":174,"v":7100},{"e":368,"a":174,"v":5800},{"e":400,"a":174,"v":3900},{"e":432,"a":174,"v":2300},{"e":464,"a":174,"v":1200},{"e":496,"a":174,"v":800},{"e":528,"a":174,"v":400},
{"e":144,"a":178,"v":300},{"e":176,"a":178,"v":600},{"e":208,"a":178,"v":2500},{"e":240,"a":178,"v":5000},{"e":272,"a":178,"v":6300},{"e":304,"a":178,"v":6500},{"e":336,"a":178,"v":5700},{"e":368,"a":178,"v":3800},{"e":400,"a":178,"v":2600},{"e":432,"a":178,"v":1300},{"e":464,"a":178,"v":900},{"e":496,"a":178,"v":500},
{"e":176,"a":182,"v":200},{"e":208,"a":182,"v":1200},{"e":240,"a":182,"v":2800},{"e":272,"a":182,"v":3400},{"e":304,"a":182,"v":3400},{"e":336,"a":182,"v":2700},{"e":368,"a":182,"v":1800},{"e":400,"a":182,"v":1100},{"e":432,"a":182,"v":500},
{"e":144,"a":186,"v":500},{"e":176,"a":186,"v":800},{"e":208,"a":186,"v":3400},{"e":240,"a":186,"v":6300},{"e":272,"a":186,"v":6600},{"e":304,"a":186,"v":5300},{"e":336,"a":186,"v":4000},{"e":368,"a":186,"v":2700},{"e":400,"a":186,"v":1500},{"e":432,"a":186,"v":800},{"e":464,"a":186,"v":400},
{"e":144,"a":190,"v":400},{"e":176,"a":190,"v":700},{"e":208,"a":190,"v":3700},{"e":240,"a":190,"v":9000},{"e":272,"a":190,"v":9900},{"e":304,"a":190,"v":8700},{"e":336,"a":190,"v":6000},{"e":368,"a":190,"v":3500},{"e":400,"a":190,"v":1800},{"e":432,"a":190,"v":800},{"e":464,"a":190,"v":400},
{"e":176,"a":194,"v":300},{"e":208,"a":194,"v":2000},{"e":240,"a":194,"v":4000},{"e":272,"a":194,"v":4900},{"e":304,"a":194,"v":3900},{"e":336,"a":194,"v":3100},{"e":368,"a":194,"v":1700},{"e":400,"a":194,"v":1000},{"e":432,"a":194,"v":500},
{"e":144,"a":198,"v":200},{"e":176,"a":198,"v":300},{"e":208,"a":198,"v":2200},{"e":240,"a":198,"v":3700},{"e":272,"a":198,"v":3500},{"e":304,"a":198,"v":3000},{"e":336,"a":198,"v":2100},{"e":368,"a":198,"v":1000},{"e":400,"a":198,"v":600},{"e":432,"a":198,"v":400}
]},"mark":{"type":"rect"},"encoding":{"x":{"field":"e","bin":{"step":32,"extent":[0,1600]},"type":"quantitative","scale":{"domain":[0,1600],"nice":false,"zero":false},"axis":{"values":[0,200,400,600,800,1000,1200,1400,1600],"labelExpr":"datum.value/1000","title":"Cluster Energy (GeV)","titleAnchor":"end","titleX":931,"titleY":40,"titleFontSize":32,"titleFontWeight":"bold","titleColor":"#000","labelFontSize":30,"labelFontWeight":"bold","labelColor":"#000","labelPadding":26,"tickSize":-18,"tickColor":"#222","tickWidth":2,"domainColor":"#333","domainWidth":2,"labelOverlap":false,"labelFlush":false,"grid":false,"zindex":1}},"y":{"field":"a","bin":{"step":4,"extent":[0,200]},"type":"quantitative","scale":{"domain":[0,200],"nice":false,"zero":false},"axis":{"values":[0,20,40,60,80,100,120,140,160,180,200],"title":"abs(X) (mm)","titleAnchor":"end","titleX":-64,"titleY":0,"titleAlign":"right","titleFontSize":32,"titleFontWeight":"bold","titleColor":"#000","labelFontSize":30,"labelFontWeight":"bold","labelColor":"#000","labelPadding":40,"tickSize":-31,"tickColor":"#222","tickWidth":2,"domainColor":"#333","domainWidth":2,"labelOverlap":false,"labelFlush":false,"grid":false,"zindex":1}},"color":{"field":"v","type":"quantitative","scale":{"domain":[0,10130],"range":["#00007f","#0038a8","#006fc4","#00aef0","#25dcd0","#85ee78","#ccfa2c","#f0b010","#f46a0a","#dc2000","#7a0000"]},"legend":{"type":"gradient","orient":"none","legendX":939,"legendY":0,"title":null,"gradientLength":673,"gradientThickness":55,"values":[0,2000,4000,6000,8000,10000],"format":"d","labelFontSize":31,"labelColor":"#000","labelOffset":7,"labelBaseline":"middle","labelOverlap":false,"gradientStrokeColor":"#333","gradientStrokeWidth":1}}}},{"data":{"values":[{"e":0,"e2":96,"a":0,"a2":200},{"e":96,"e2":128,"a":12,"a2":16},{"e":96,"e2":128,"a":40,"a2":44},{"e":96,"e2":128,"a":68,"a2":72},{"e":96,"e2":128,"a":80,"a2":84},{"e":96,"e2":128,"a":96,"a2":100},{"e":96,"e2":128,"a":108,"a2":112},{"e":96,"e2":128,"a":124,"a2":128},{"e":96,"e2":128,"a":136,"a2":140},{"e":96,"e2":128,"a":152,"a2":156},{"e":96,"e2":128,"a":164,"a2":168},{"e":96,"e2":128,"a":180,"a2":184},{"e":96,"e2":128,"a":192,"a2":196},{"e":928,"e2":960,"a":196,"a2":200},{"e":960,"e2":992,"a":192,"a2":200},{"e":1024,"e2":1056,"a":196,"a2":200},{"e":1216,"e2":1248,"a":196,"a2":200},{"e":1344,"e2":1376,"a":196,"a2":200},{"e":1536,"e2":1568,"a":188,"a2":200},{"e":1568,"e2":1600,"a":196,"a2":200},{"e":1568,"e2":1600,"a":188,"a2":192},{"e":1440,"e2":1536,"a":184,"a2":188},{"e":1440,"e2":1472,"a":180,"a2":184},{"e":1184,"e2":1216,"a":180,"a2":184},{"e":1504,"e2":1600,"a":180,"a2":184},{"e":1472,"e2":1504,"a":176,"a2":180},{"e":1568,"e2":1600,"a":176,"a2":180},{"e":1472,"e2":1536,"a":172,"a2":176},{"e":1216,"e2":1248,"a":172,"a2":176},{"e":1504,"e2":1536,"a":160,"a2":164},{"e":1568,"e2":1600,"a":160,"a2":164},{"e":1568,"e2":1600,"a":152,"a2":156},{"e":1536,"e2":1600,"a":144,"a2":148},{"e":1504,"e2":1536,"a":140,"a2":144},{"e":1568,"e2":1600,"a":136,"a2":144}]},"mark":{"type":"rect","fill":"white"},"encoding":{"x":{"field":"e","type":"quantitative","axis":null},"x2":{"field":"e2"},"y":{"field":"a","type":"quantitative","axis":null},"y2":{"field":"a2"}}},{"data":{"values":[{"e":947,"a":167,"t":"Run 3258"}]},"mark":{"type":"text","font":"Liberation Sans","fontWeight":"bold","fontSize":52,"color":"white"},"encoding":{"x":{"field":"e","type":"quantitative","axis":{"orient":"bottom","values":[50,100,150,250,300,350,450,500,550,650,700,750,850,900,950,1050,1100,1150,1250,1300,1350,1450,1500,1550],"labels":false,"title":null,"domain":false,"tickSize":-9,"tickColor":"#222","tickWidth":2,"grid":false,"zindex":1}},"y":{"field":"a","type":"quantitative","axis":{"orient":"left","values":[5,10,15,25,30,35,45,50,55,65,70,75,85,90,95,105,110,115,125,130,135,145,150,155,165,170,175,185,190,195],"labels":false,"title":null,"domain":false,"tickSize":-15,"tickColor":"#222","tickWidth":2,"grid":false,"zindex":1}},"text":{"field":"t"}}},{"data":{"values":[{"e":1652,"e2":1708,"a":0},{"e":1652,"e2":1708,"a":39.49},{"e":1652,"e2":1708,"a":78.97},{"e":1652,"e2":1708,"a":118.46},{"e":1652,"e2":1708,"a":157.95},{"e":1652,"e2":1708,"a":197.43}]},"mark":{"type":"rule","color":"#222","strokeWidth":2},"encoding":{"x":{"field":"e","type":"quantitative","axis":null},"x2":{"field":"e2"},"y":{"field":"a","type":"quantitative","axis":{"orient":"right","offset":64,"values":[0,39.49,78.97,118.46,157.95,197.43],"labels":false,"title":null,"domain":false,"tickSize":-31,"tickColor":"#222","tickWidth":2,"grid":false,"zindex":1}}}}]}
